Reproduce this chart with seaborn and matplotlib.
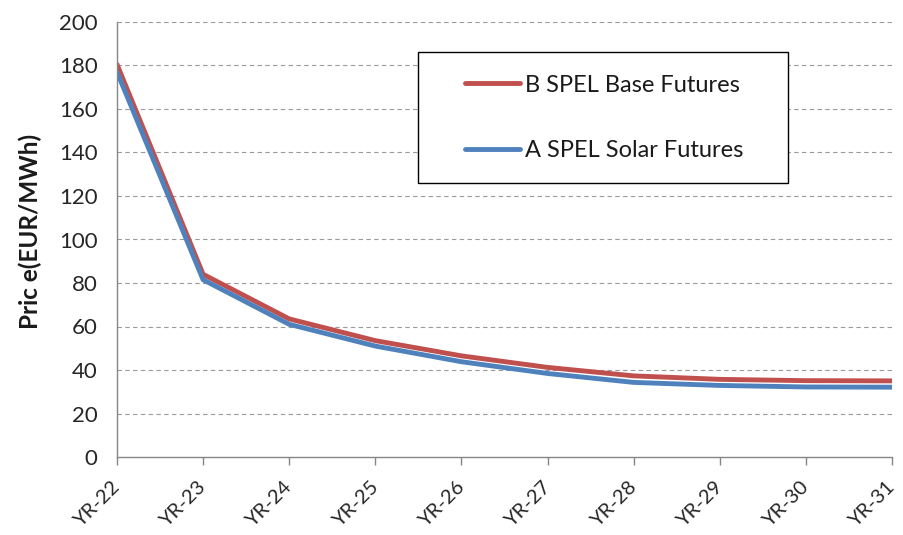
import numpy as np
import pandas as pd
import matplotlib
matplotlib.use('Agg')
import matplotlib.pyplot as plt
from matplotlib.patches import Rectangle
import seaborn as sns

years = ['YR-22', 'YR-23', 'YR-24', 'YR-25', 'YR-26', 'YR-27', 'YR-28', 'YR-29', 'YR-30', 'YR-31']
base_futures = [180.5, 84, 63.5, 53.5, 46.5, 41.2, 37.3, 35.7, 35.1, 35.0]
solar_futures = [177, 81.5, 61, 51, 43.8, 38.4, 34.3, 32.9, 32.2, 32.1]
series_names = ['B SPEL Base Futures', 'A SPEL Solar Futures']
series_colors = ['#C0504D', '#4F81BD']
yticks = list(range(0, 201, 20))

df = pd.DataFrame({
    'Year': years * 2,
    'Price': base_futures + solar_futures,
    'Series': [series_names[0]] * len(years) + [series_names[1]] * len(years),
})

sns.set_theme(style="white")
plt.rcParams['font.family'] = ['Lato', 'DejaVu Sans']

fig = plt.figure(figsize=(9.04, 5.35), dpi=100)
ax = fig.add_axes([117 / 904, 1 - 457 / 535, 775 / 904, 435 / 535])

sns.lineplot(data=df, x='Year', y='Price', hue='Series', hue_order=series_names,
             palette=series_colors, linewidth=3.5, sort=False, ax=ax, legend=True)

ax.set_xlim(0, len(years) - 1)
ax.set_ylim(0, 200)
ax.set_yticks(yticks)
ax.set_xticks(range(len(years)))
ax.set_xticklabels(years, rotation=45, ha='right', va='center', rotation_mode='anchor')
ax.set_xlabel('')
ax.set_ylabel('Pric e(EUR/MWh)', fontsize=17.5, fontweight='bold', color='#1a1a1a')
ax.yaxis.set_label_coords(-75 / 775, (457 - 231) / 435)

for y in yticks[1:]:
    ax.axhline(y, color='#9a9a9a', linewidth=0.8, linestyle=(0, (4, 3)), zorder=0)

for side in ['top', 'right']:
    ax.spines[side].set_visible(False)
for side in ['left', 'bottom']:
    ax.spines[side].set_color('#868686')
    ax.spines[side].set_linewidth(1.0)

ax.tick_params(axis='y', direction='inout', length=12, width=1, color='#868686',
               labelsize=16, labelcolor='#262626', pad=8)
ax.tick_params(axis='x', direction='out', length=6, width=1, color='#868686',
               labelsize=14.5, labelcolor='#262626', pad=14, bottom=True)

ax.add_patch(Rectangle((301 / 775, 274 / 435), 370 / 775, 131 / 435, transform=ax.transAxes,
                       fill=True, facecolor='white', edgecolor='black', linewidth=1.0, zorder=3))
leg = ax.legend(loc='center', bbox_to_anchor=(487 / 775, 339 / 435), frameon=False,
                fontsize=17, handlelength=2.35, handletextpad=0.2, labelspacing=1.9)
leg.set_zorder(4)
for line in leg.get_lines():
    line.set_linewidth(3.5)
for t in leg.get_texts():
    t.set_color('#1a1a1a')

fig.savefig('out.png', dpi=100)
